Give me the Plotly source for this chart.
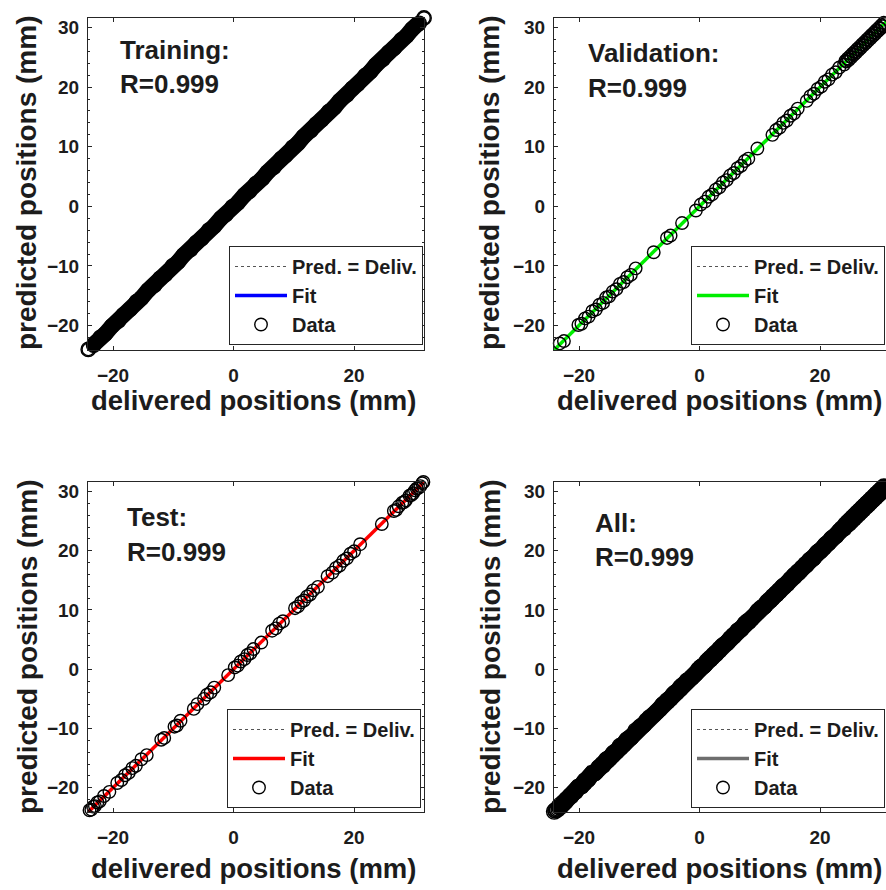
import numpy as np
import plotly.graph_objects as go

# ---------------- data (delivered = target, predicted = network output) -------------
train_t = [-24.1, -23.2, -22.1, -21.3, -20.2, -19.1, -18.3, -17.2, -16.1, -15.3,
           -14.2, -13.1, -12.2, -11.3, -10.1, -9.2, -8.3, -7.1, -6.2, -5.3,
           -4.1, -3.2, -2.1, -1.3, -0.2, 0.7, 1.8, 2.6, 3.7, 4.8,
           5.6, 6.7, 7.9, 8.6, 9.8, 10.7, 11.6, 12.8, 13.7, 14.6,
           15.8, 16.7, 17.6, 18.8, 19.7, 20.6, 21.8, 22.7, 23.6, 24.8,
           25.7, 26.6, 27.8, 28.7, 29.6, 30.8, 31.6]
train_y = [-24.0, -23.3, -22.0, -21.4, -20.1, -19.2, -18.2, -17.3, -16.0, -15.4,
           -14.1, -13.2, -12.1, -11.4, -10.0, -9.3, -8.2, -7.2, -6.1, -5.4,
           -4.0, -3.3, -2.0, -1.4, -0.1, 0.6, 1.9, 2.5, 3.8, 4.7,
           5.7, 6.6, 8.0, 8.5, 9.9, 10.6, 11.7, 12.7, 13.8, 14.5,
           15.9, 16.6, 17.7, 18.7, 19.8, 20.5, 21.9, 22.6, 23.7, 24.7,
           25.8, 26.5, 27.9, 28.6, 29.7, 30.7, 31.6]

val_t = [-24.0, -23.2, -22.5, -20.1, -19.6, -19.0, -18.4, -17.8, -17.2, -16.6,
         -16.0, -15.5, -15.0, -14.4, -13.8, -13.2, -12.6, -12.0, -11.4, -10.6,
         -7.6, -5.4, -4.8, -2.9, -0.6, 0.2, 0.9, 1.5, 2.1, 2.7,
         3.3, 3.9, 4.5, 5.1, 5.7, 6.3, 6.9, 7.5, 8.1, 9.6,
         12.1, 12.7, 13.3, 13.9, 14.5, 15.1, 15.7, 16.3, 17.8, 18.4,
         19.0, 19.6, 20.2, 20.8, 21.4, 22.0, 22.6, 23.2,
         24.0, 24.2, 24.4, 24.6, 24.8, 25.0, 25.2, 25.4, 25.6, 25.8,
         26.0, 26.2, 26.4, 26.6, 26.8, 27.0, 27.2, 27.4, 27.6, 27.8,
         28.0, 28.2, 28.4, 28.6, 28.8, 29.0, 29.2, 29.4, 29.6, 29.8,
         30.0, 30.2, 30.4, 30.6, 30.8, 31.0, 31.2, 31.4, 31.6]
val_y = [-24.2, -23.0, -22.6, -19.9, -19.7, -18.8, -18.5, -17.6, -17.3, -16.5,
         -16.2, -15.3, -15.1, -14.3, -13.9, -13.0, -12.7, -11.9, -11.5, -10.4,
         -7.7, -5.3, -4.9, -2.8, -0.7, 0.3, 0.8, 1.6, 2.0, 2.8,
         3.2, 4.0, 4.4, 5.2, 5.6, 6.4, 6.8, 7.6, 8.0, 9.7,
         12.0, 12.8, 13.2, 14.0, 14.4, 15.2, 15.6, 16.4, 17.7, 18.5,
         18.9, 19.7, 20.1, 20.9, 21.3, 22.1, 22.5, 23.3,
         23.8, 24.4, 24.3, 24.8, 24.6, 25.2, 25.0, 25.6, 25.4, 26.0,
         25.8, 26.4, 26.2, 26.8, 26.6, 27.2, 27.0, 27.6, 27.4, 28.0,
         27.8, 28.4, 28.2, 28.8, 28.6, 29.2, 29.0, 29.6, 29.4, 30.0,
         29.8, 30.4, 30.2, 30.8, 30.6, 31.2, 31.0, 31.6, 31.5]

test_t = [-24.2, -23.9, -23.6, -23.3, -23.0, -22.6, -22.2, -21.5, -20.6, -19.3,
          -18.6, -18.0, -17.4, -16.8, -16.2, -15.3, -14.4, -12.0, -11.5, -9.8,
          -9.4, -8.8, -6.6, -6.0, -4.9, -4.4, -3.8, -3.2, -0.9, 0.2,
          0.7, 1.2, 1.8, 2.3, 2.8, 3.3, 4.6, 6.4, 7.0, 7.6,
          8.2, 10.2, 10.7, 11.2, 11.7, 12.2, 12.7, 13.2, 14.0, 15.6,
          16.4, 17.0, 17.6, 18.2, 18.8, 19.4, 20.0, 21.0, 24.6,
          26.6, 27.0, 27.4, 28.0, 28.3, 28.6, 29.2, 29.5, 29.8, 30.1,
          30.4, 30.7, 31.0, 31.3, 31.5]
test_y = [-24.3, -23.8, -23.7, -23.2, -23.1, -22.5, -22.3, -21.4, -20.7, -19.2,
          -18.7, -17.9, -17.5, -16.7, -16.3, -15.2, -14.5, -11.9, -11.6, -9.7,
          -9.5, -8.7, -6.7, -5.9, -5.0, -4.3, -3.9, -3.1, -1.0, 0.3,
          0.6, 1.3, 1.7, 2.4, 2.7, 3.4, 4.5, 6.5, 6.9, 7.7,
          8.1, 10.3, 10.6, 11.3, 11.6, 12.3, 12.6, 13.3, 13.9, 15.7,
          16.3, 17.1, 17.5, 18.3, 18.7, 19.5, 19.9, 21.1, 24.5,
          26.7, 26.9, 27.5, 28.1, 28.2, 28.5, 29.3, 29.4, 29.7, 30.2,
          30.5, 30.6, 30.9, 31.4, 31.6]

all_t = train_t + val_t + test_t
all_y = train_y + val_y + test_y

panel_titles = ["Training:", "Validation:", "Test:", "All:"]
r_labels = ["R=0.999", "R=0.999", "R=0.999", "R=0.999"]
legend_names = ["Pred. = Deliv.", "Fit", "Data"]
x_ticks = [-20, 0, 20]
y_ticks = [-20, -10, 0, 10, 20, 30]
x_title = "delivered positions (mm)"
y_title = "predicted positions (mm)"

# ---------------- layout helpers ----------------
W, H = 886, 890
FONT = "Liberation Sans, Arial, Helvetica, sans-serif"
TXT = "#1c1c1c"
AX = "#262626"


def px(x):
    return x / W


def py(y):
    return 1 - y / H


panels = [
    dict(t=train_t, y=train_y, fit="#0000ff", band=16,
         xdom=(88, 424), ydom=(18, 350), xr=(-24.15, 31.6), mirror=True,
         txt=(118, 50, 84), leg=(423, 345), xt=(253, 400), yt=(27, 183)),
    dict(t=val_t, y=val_y, fit="#00ee00", band=0,
         xdom=(554, 886), ydom=(18, 350), xr=(-24.15, 30.95), mirror=False,
         txt=(586, 53, 88), leg=(885, 345), xt=(719, 400), yt=(490, 183)),
    dict(t=test_t, y=test_y, fit="#ff0000", band=0,
         xdom=(88, 424), ydom=(482, 812), xr=(-24.15, 31.6), mirror=True,
         txt=(125, 517, 552), leg=(421, 808), xt=(253, 868), yt=(27, 647)),
    dict(t=all_t, y=all_y, fit="#6e6e6e", band=17,
         xdom=(554, 886), ydom=(482, 812), xr=(-24.15, 30.95), mirror=False,
         txt=(593, 523, 557), leg=(885, 808), xt=(719, 868), yt=(490, 647)),
]

fig = go.Figure()
annotations = []
layout = {}

for i, p in enumerate(panels):
    k = "" if i == 0 else str(i + 1)
    xa, ya, lg = "x" + k, "y" + k, "legend" + k
    t = np.array(p["t"], dtype=float)
    y = np.array(p["y"], dtype=float)
    lims = np.array([min(t.min(), y.min()), max(t.max(), y.max())])
    a, b = np.polyfit(t, y, 1)

    fig.add_trace(go.Scatter(x=lims, y=lims, mode="lines", name=legend_names[0],
                             line=dict(color="#555555", width=1, dash="dot"),
                             xaxis=xa, yaxis=ya, legend=lg))
    fig.add_trace(go.Scatter(x=lims, y=a * lims + b, mode="lines", name=legend_names[1],
                             line=dict(color=p["fit"], width=3.5),
                             xaxis=xa, yaxis=ya, legend=lg))
    if p["band"]:
        # densely overlapping circles merge into a solid band
        order = np.argsort(t)
        fig.add_trace(go.Scatter(x=t[order], y=y[order], mode="lines+markers", showlegend=False,
                                 line=dict(color="black", width=p["band"]),
                                 marker=dict(symbol="circle-open", size=p["band"] - 1.5,
                                             color="black", line=dict(width=1.4, color="black")),
                                 cliponaxis=False, hoverinfo="skip", xaxis=xa, yaxis=ya))
    fig.add_trace(go.Scatter(x=t, y=y, mode="markers", name=legend_names[2],
                             marker=dict(symbol="circle-open", size=12.5,
                                         color="black", line=dict(width=1.4, color="black")),
                             cliponaxis=False, xaxis=xa, yaxis=ya, legend=lg))

    tick_font = dict(family=FONT, size=19, color=TXT, weight="bold")
    layout["xaxis" + k] = dict(
        domain=[px(p["xdom"][0]), px(p["xdom"][1])], anchor=ya,
        range=list(p["xr"]), tickvals=x_ticks, ticks="inside", ticklen=4,
        tickcolor=AX, showline=True, linecolor=AX, linewidth=1,
        mirror="ticks", showgrid=False, zeroline=False, tickfont=tick_font,
        ticklabelstandoff=8)
    layout["yaxis" + k] = dict(
        domain=[py(p["ydom"][1]), py(p["ydom"][0])], anchor=xa,
        range=[-24.1, 31.6], tickvals=y_ticks, ticks="inside", ticklen=4,
        tickcolor=AX, showline=True, linecolor=AX, linewidth=1,
        mirror="ticks" if p["mirror"] else False, showgrid=False, zeroline=False,
        tickfont=tick_font, ticklabelstandoff=4,
        minor=dict(ticks="inside", ticklen=2, dtick=2, tickcolor=AX, showgrid=False))

    layout[lg] = dict(
        x=px(p["leg"][0]), y=py(p["leg"][1]), xanchor="right", yanchor="bottom",
        xref="paper", yref="paper", bgcolor="white", bordercolor=AX, borderwidth=1,
        font=dict(family=FONT, size=20, color=TXT, weight="bold"),
        itemwidth=52, traceorder="normal", tracegroupgap=0)

    tx, ty1, ty2 = p["txt"]
    for txt, yy in ((panel_titles[i], ty1), (r_labels[i], ty2)):
        annotations.append(dict(text=txt, x=px(tx), y=py(yy), xref="paper", yref="paper",
                                xanchor="left", yanchor="middle", showarrow=False,
                                font=dict(family=FONT, size=26, color=TXT, weight="bold")))
    annotations.append(dict(text=x_title, x=px(p["xt"][0]), y=py(p["xt"][1]),
                            xref="paper", yref="paper", xanchor="center", yanchor="middle",
                            showarrow=False,
                            font=dict(family=FONT, size=27.5, color=TXT, weight="bold")))
    annotations.append(dict(text=y_title, x=px(p["yt"][0]), y=py(p["yt"][1]),
                            xref="paper", yref="paper", xanchor="center", yanchor="middle",
                            textangle=-90, showarrow=False,
                            font=dict(family=FONT, size=28, color=TXT, weight="bold")))

fig.update_layout(
    width=W, height=H, margin=dict(l=0, r=0, t=0, b=0),
    paper_bgcolor="white", plot_bgcolor="white",
    annotations=annotations, **layout)

fig.write_html("out.html")
